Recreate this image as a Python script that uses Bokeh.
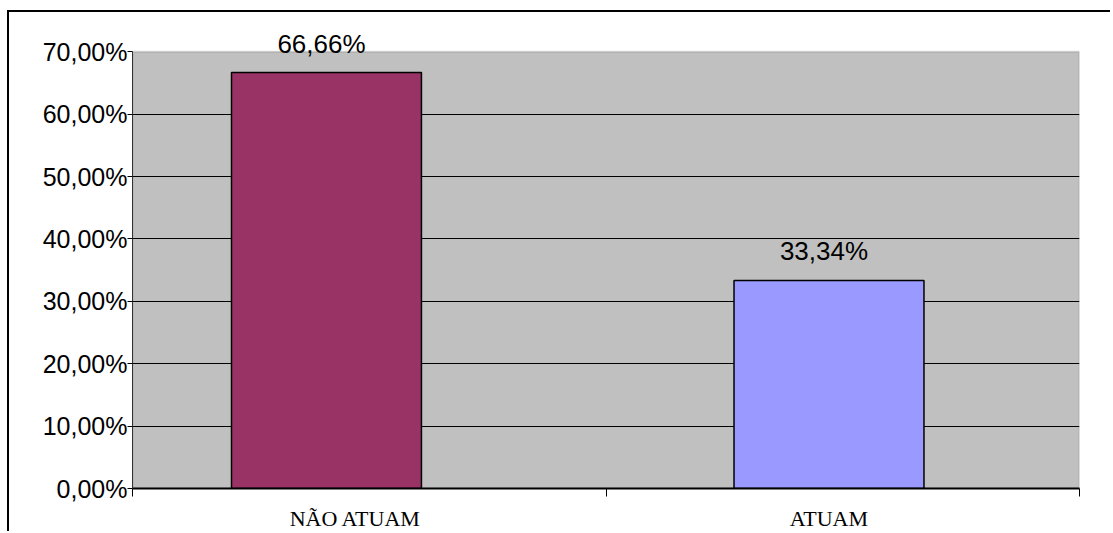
from bokeh.plotting import figure
from bokeh.models import Range1d, FixedTicker, LabelSet, ColumnDataSource, BoxAnnotation
from bokeh.core.properties import value
from bokeh.embed import file_html
from bokeh.resources import INLINE

# ---- data ----
categories = ["NÃO ATUAM", "ATUAM"]
values = [66.66, 33.34]
bar_colors = ["#993366", "#9999FF"]
y_ticks = [0, 10, 20, 30, 40, 50, 60, 70]


def pct(v):
    return f"{v:.2f}".replace(".", ",") + "%"


y_tick_labels = [pct(t) for t in y_ticks]
value_labels = [pct(v) for v in values]

xs = list(range(len(categories)))
bar_src = ColumnDataSource(dict(x=xs, top=values, color=bar_colors, label=value_labels))

# axis layout (category slots)
x_start, x_end = -0.386, 1.4985
bounds = [x_start, 0.557, x_end]
label_shift = -0.028
label_x = [(a + b) / 2 + label_shift for a, b in zip(bounds[:-1], bounds[1:])]
y_max = max(y_ticks)

p = figure(width=1103, height=521,
           x_range=Range1d(x_start, x_end), y_range=Range1d(0, 75),
           output_backend="svg", toolbar_location=None,
           min_border_left=123, min_border_right=33,
           min_border_top=8, min_border_bottom=45)

p.background_fill_color = "white"
p.border_fill_color = "white"
p.outline_line_color = None

# grey plot area
plot_area = BoxAnnotation(left=x_start, right=x_end, bottom=0, top=y_max,
                          fill_color="#C0C0C0", fill_alpha=1.0,
                          line_color="#808080", line_width=2, level="image")
p.add_layout(plot_area)

p.vbar(x="x", top="top", bottom=0, width=0.378, fill_color="color",
       line_color="black", line_width=1.5, source=bar_src)

# grid
p.xgrid.visible = False
p.ygrid.ticker = FixedTicker(ticks=[t for t in y_ticks if t < y_max])
p.ygrid.grid_line_color = "black"
p.ygrid.grid_line_width = 1

# y axis
p.yaxis.ticker = FixedTicker(ticks=y_ticks)
p.yaxis.bounds = (0, y_max)
p.yaxis.major_label_overrides = {t: l for t, l in zip(y_ticks, y_tick_labels)}
p.yaxis.major_label_text_font = "Liberation Sans"
p.yaxis.major_label_text_font_size = "25px"
p.yaxis.major_label_text_color = "black"
p.yaxis.major_label_standoff = 0
p.yaxis.major_tick_in = 0
p.yaxis.major_tick_out = 5
p.yaxis.minor_tick_line_color = None
p.yaxis.axis_line_color = "#333333"
p.yaxis.major_tick_line_color = "black"

# x axis: labels at category labels, separator ticks as minor ticks
p.xaxis.ticker = FixedTicker(ticks=label_x, minor_ticks=bounds)
p.xaxis.major_label_overrides = {x: c for x, c in zip(label_x, categories)}
p.xaxis.major_label_text_font = "Liberation Serif"
p.xaxis.major_label_text_font_size = "22px"
p.xaxis.major_label_text_color = "black"
p.xaxis.major_label_standoff = 9
p.xaxis.major_tick_in = 0
p.xaxis.major_tick_out = 0
p.xaxis.major_tick_line_color = None
p.xaxis.minor_tick_in = 0
p.xaxis.minor_tick_out = 8
p.xaxis.minor_tick_line_color = "black"
p.xaxis.axis_line_color = "black"
p.xaxis.axis_line_width = 2

val_labels = LabelSet(x="x", y="top", text="label", source=bar_src,
                      x_offset=-5, y_offset=20,
                      text_align="center", text_baseline="alphabetic",
                      text_font=value("Liberation Sans"), text_font_size="26px",
                      text_color="black")
p.add_layout(val_labels)

p.styles = {"border-top": "2px solid black", "border-left": "2px solid black",
            "margin-top": "10px", "margin-left": "7px"}

open("out.html", "w").write(file_html(p, INLINE))
